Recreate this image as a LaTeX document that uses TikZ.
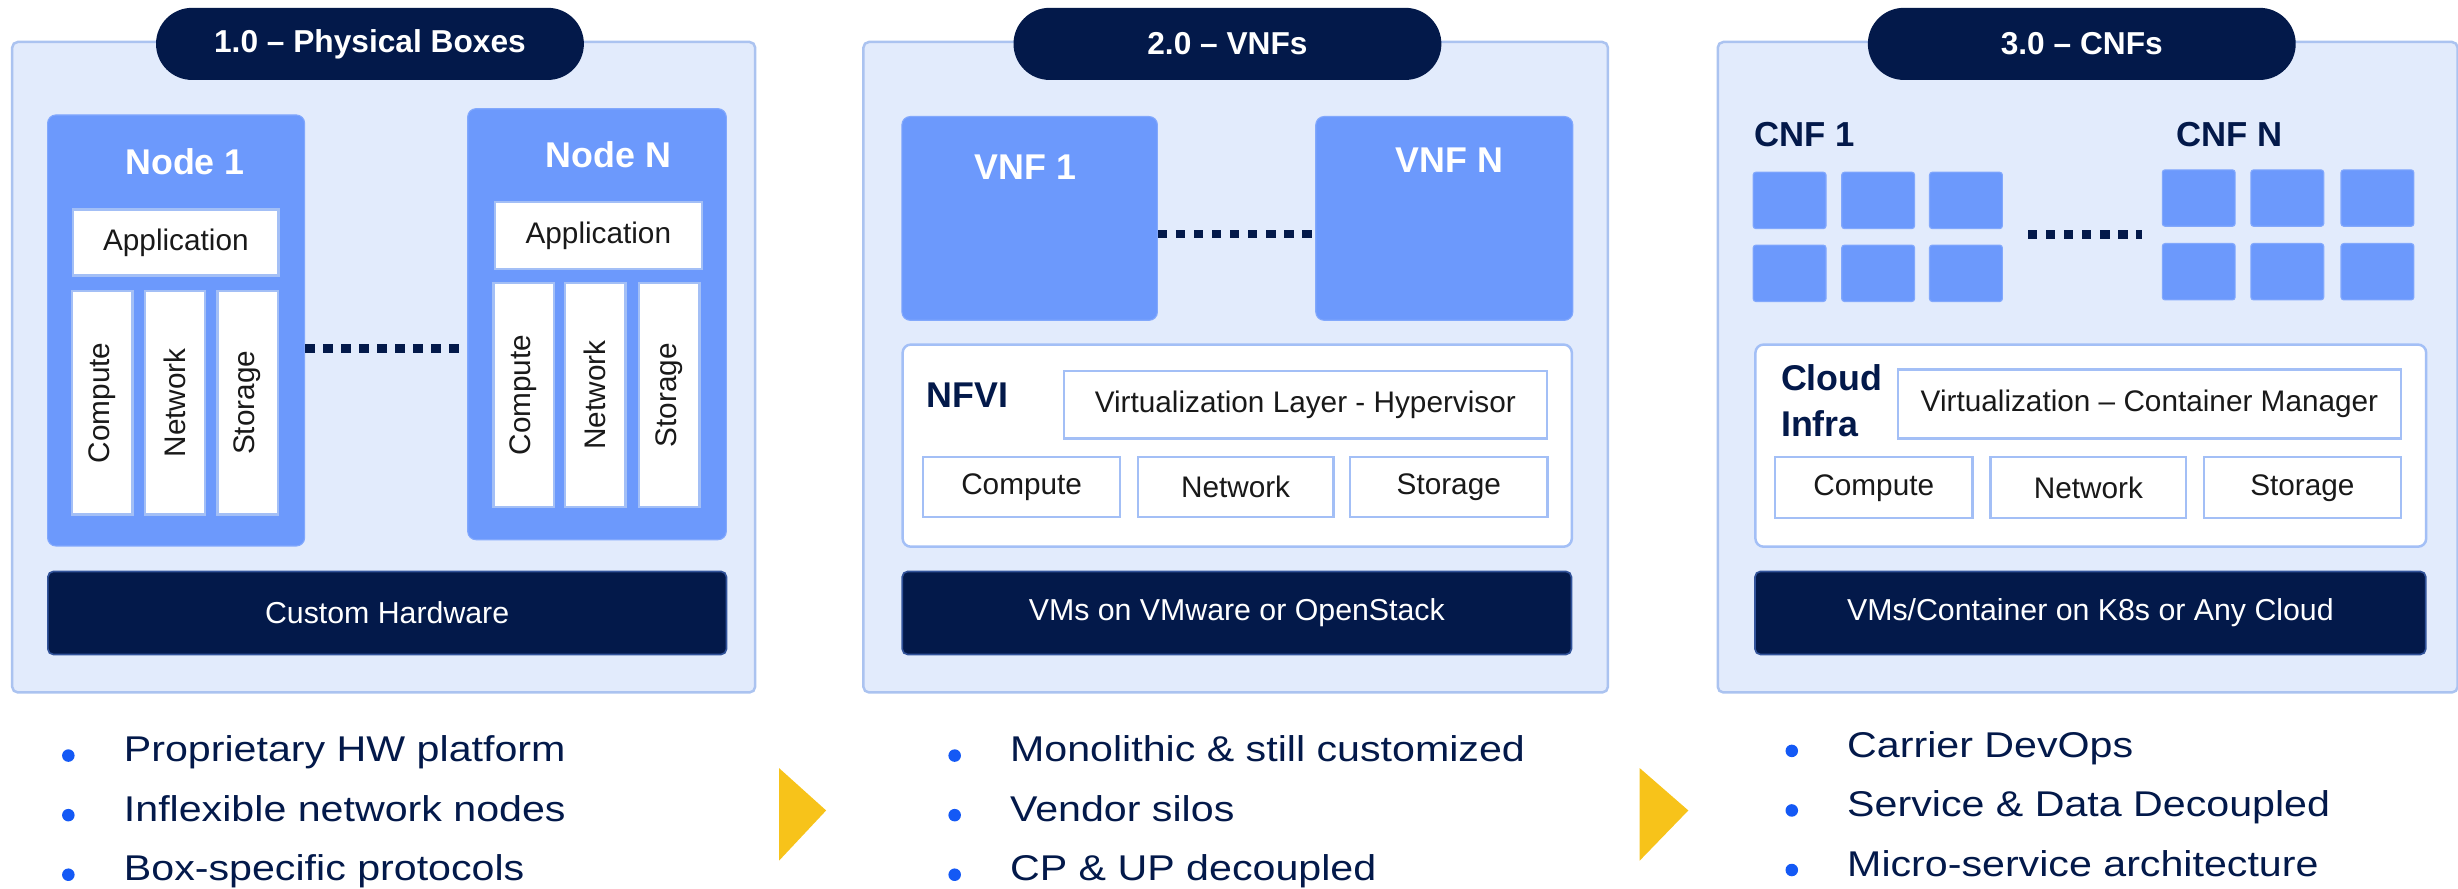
\documentclass[tikz,border=0pt]{standalone}
\usepackage{fontspec}
\setmainfont{Liberation Sans}
\newfontfamily\bulletfont[FakeStretch=1.15]{Liberation Sans}
\usetikzlibrary{positioning}

\definecolor{navy}{HTML}{03194A}
\definecolor{panelfill}{HTML}{E2EBFC}
\definecolor{panelline}{HTML}{ABC3F0}
\definecolor{nodeblue}{HTML}{6C99FC}
\definecolor{boxline}{HTML}{A3BFF6}
\definecolor{gold}{HTML}{F7C31A}
\definecolor{dotblue}{HTML}{1459F5}

\tikzset{
  panel/.style={draw=panelline, fill=panelfill, line width=0.9pt, rounded corners=2pt, anchor=north west, inner sep=0pt},
  pill/.style={fill=navy, text=white, rounded corners=0.46cm, minimum width=5.46cm, minimum height=0.92cm, inner sep=0pt, font=\bfseries\fontsize{11.5}{13}\selectfont},
  bluebox/.style={fill=nodeblue, draw=nodeblue!85!white, rounded corners=3pt, anchor=north west, inner sep=0pt},
  pod/.style={fill=nodeblue, draw=nodeblue!85!white, rounded corners=1pt, anchor=north west, inner sep=0pt, minimum width=0.93cm, minimum height=0.72cm},
  whitebox/.style={fill=white, draw=boxline, line width=0.8pt, inner sep=0pt, text=black!90, font=\fontsize{10.8}{12}\selectfont},
  wbox/.style={whitebox, anchor=north west},
  vbox/.style={whitebox, rotate=90, minimum width=2.85cm, minimum height=0.77cm},
  infra/.style={fill=white, draw=boxline, line width=0.9pt, rounded corners=3pt, anchor=north west, inner sep=0pt},
  infratitle/.style={text=navy, font=\bfseries\fontsize{13}{17}\selectfont},
  bar/.style={fill=navy, draw=nodeblue!45!navy, line width=0.6pt, rounded corners=2pt, anchor=north west, inner sep=0pt, minimum height=1.06cm, text=white, font=\fontsize{11}{13}\selectfont},
  head/.style={text=white, font=\bfseries\fontsize{13}{15}\selectfont},
  cnfhead/.style={text=navy, font=\bfseries\fontsize{12.6}{15}\selectfont},
  dotline/.style={navy, line width=0.11cm, dash pattern=on 0.12cm off 0.11cm},
  bdot/.style={circle, fill=dotblue, inner sep=0pt, minimum size=0.16cm},
  btext/.style={anchor=base west, inner sep=0pt, text=navy, font=\bulletfont\fontsize{13}{15}\selectfont}
}

\begin{document}
\begin{tikzpicture}[x=0.02cm, y=-0.02cm]
\useasboundingbox (0,0) rectangle (1568,567);

% 1.0 physical boxes
\node[panel, minimum width=9.48cm, minimum height=8.30cm] (pone) at (7,26) {};
\node[pill] (tone) at (236,28) {1.0 – Physical Boxes};
\node[bluebox, minimum width=3.28cm, minimum height=5.50cm] (nodeone) at (30,73) {};
\node[head] (nodeonetitle) at (118,103) {Node 1};
\node[wbox, minimum width=2.62cm, minimum height=0.84cm] (appone) at (46,133) {Application};
\foreach \x/\t/\n in {65.25/Compute/cmp, 111.5/Network/net, 158/Storage/sto}
  \node[vbox] (\n1) at (\x,257) {\t};
\node[bluebox, minimum width=3.30cm, minimum height=5.50cm] (nodeN) at (298,69) {};
\node[head] (nodeNtitle) at (388,99) {Node N};
\node[wbox, minimum width=2.64cm, minimum height=0.86cm] (appN) at (315,128) {Application};
\foreach \x/\t/\n in {334/Compute/cmp, 379.75/Network/net, 427/Storage/sto}
  \node[vbox] (\n N) at (\x,252) {\t};
\node[bar, minimum width=8.66cm] (hwone) at (30,364) {Custom Hardware};
\draw[dotline] ([yshift=-0.23cm]nodeone.east) -- ([yshift=-0.23cm]nodeone.east -| nodeN.west);

% 2.0 VNFs
\node[panel, minimum width=9.50cm, minimum height=8.30cm] (ptwo) at (550,26) {};
\node[pill] (ttwo) at (783,28) {2.0 – VNFs};
\node[bluebox, minimum width=3.26cm, minimum height=2.60cm] (vnfone) at (575,74) {};
\node[head] (vnfonetitle) at (654,106.5) {VNF 1};
\node[bluebox, minimum width=3.28cm, minimum height=2.60cm] (vnfN) at (839,74) {};
\node[head] (vnfNtitle) at (924.5,102) {VNF N};
\draw[dotline] ([yshift=-0.2cm]vnfone.east) -- ([yshift=-0.2cm]vnfone.east -| vnfN.west);
\node[infra, minimum width=8.54cm, minimum height=2.58cm] (nfvi) at (575,219) {};
\node[infratitle] (nfvititle) at (617,252) {NFVI};
\node[wbox, minimum width=6.16cm, minimum height=0.86cm] (hyp) at (678,236) {Virtualization Layer - Hypervisor};
\node[wbox, minimum width=2.52cm, minimum height=0.76cm] (cmpv) at (588,291) {Compute};
\node[wbox, minimum width=2.50cm, minimum height=0.76cm] (netv) at (725,291) {Network};
\node[wbox, minimum width=2.52cm, minimum height=0.76cm] (stov) at (860.5,291) {Storage};
\node[bar, minimum width=8.54cm] (vms) at (575,364) {VMs on VMware or OpenStack};

% 3.0 CNFs
\node[panel, minimum width=9.44cm, minimum height=8.30cm] (pthree) at (1095,26) {};
\node[pill] (tthree) at (1328,28) {3.0 – CNFs};
\node[cnfhead] (cnfonetitle) at (1151,86) {CNF 1};
\node[cnfhead] (cnfNtitle) at (1422,86) {CNF N};
\foreach \x [count=\i] in {1118,1174.5,1230.5}
  \foreach \y [count=\j] in {109.5,156}
    \node[pod] (podl\i\j) at (\x,\y) {};
\foreach \x [count=\i] in {1379,1435.5,1493}
  \foreach \y [count=\j] in {108,155}
    \node[pod] (podr\i\j) at (\x,\y) {};
\draw[dotline] ([xshift=0.32cm,yshift=-0.07cm]podl31.south east) -- ([xshift=-0.25cm,yshift=-0.07cm]podl31.south east -| podr11.west);
\node[infra, minimum width=8.56cm, minimum height=2.58cm] (cloud) at (1119,219) {};
\node[infratitle, align=left, anchor=west] (cloudtitle) at (1130,255.6) {Cloud\\Infra};
\node[wbox, minimum width=6.42cm, minimum height=0.88cm] (ctr) at (1210,235) {Virtualization – Container Manager};
\node[wbox, minimum width=2.52cm, minimum height=0.78cm] (cmpc) at (1131.6,291) {Compute};
\node[wbox, minimum width=2.50cm, minimum height=0.78cm] (netc) at (1269,291) {Network};
\node[wbox, minimum width=2.52cm, minimum height=0.78cm] (stoc) at (1405,291) {Storage};
\node[bar, minimum width=8.56cm] (k8s) at (1119,364) {VMs/Container on K8s or Any Cloud};

% arrows between the stages
\fill[gold] (497,490) -- (527,517) -- (497,549) -- cycle;
\fill[gold] (1046,490) -- (1077,517) -- (1046,549) -- cycle;

% bullet lists
\foreach \t [count=\i] in {Proprietary HW platform, Inflexible network nodes, Box-specific protocols} {
  \node[bdot] (dotone\i) at (43.6,{482+38*(\i-1)}) {};
  \node[btext] (txtone\i) at (78.7,{486+38*(\i-1)}) {\t};
}
\foreach \t [count=\i] in {Monolithic \& still customized, Vendor silos, CP \& UP decoupled} {
  \node[bdot] (dottwo\i) at (609,{482+38*(\i-1)}) {};
  \node[btext] (txttwo\i) at (644,{486+38*(\i-1)}) {\t};
}
\foreach \t [count=\i] in {Carrier DevOps, Service \& Data Decoupled, Micro-service architecture} {
  \node[bdot] (dotthree\i) at (1143,{479+38*(\i-1)}) {};
  \node[btext] (txtthree\i) at (1178,{483+38*(\i-1)}) {\t};
}
\end{tikzpicture}
\end{document}
